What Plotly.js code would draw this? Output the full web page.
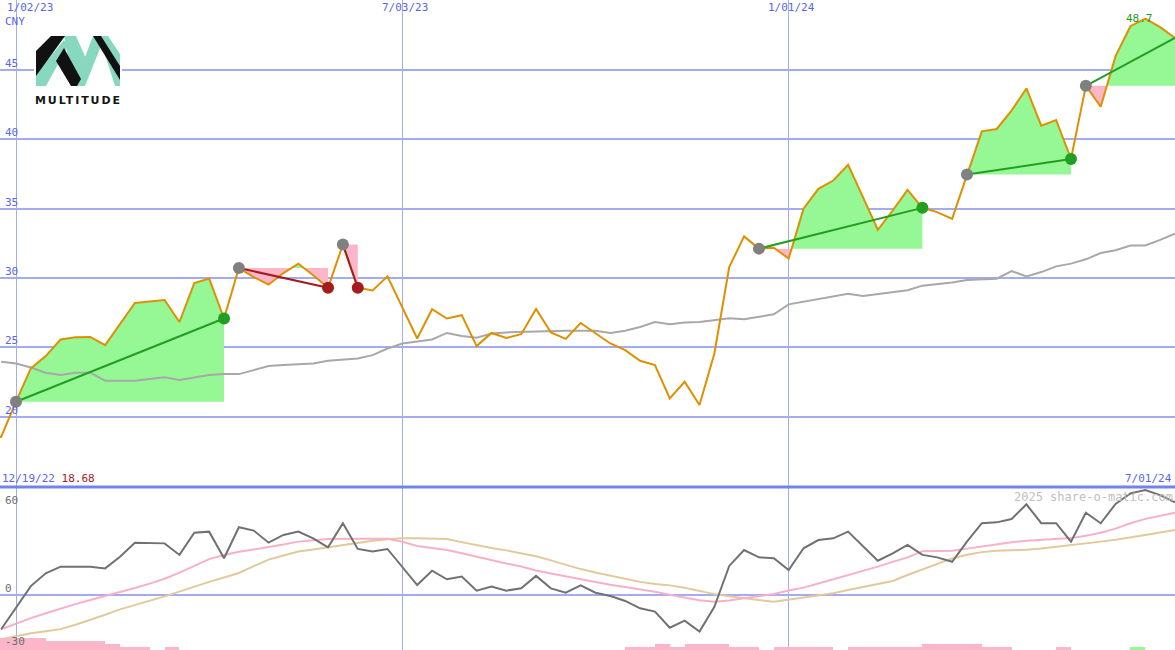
<!DOCTYPE html>
<html>
<head>
<meta charset="utf-8">
<script src="https://cdn.plot.ly/plotly-3.0.1.min.js"></script>
<style>
  html, body { margin: 0; padding: 0; background: #ffffff; }
  #chart { width: 1175px; height: 650px; }
</style>
</head>
<body>
<div id="chart"></div>
<script>
// ---------------- DATA ----------------
const firstDate = '2022-12-19';      // first weekly observation
const weekCount = 81;                // 12/19/22 ... 7/01/24

// weekly closing price (CNY)
const price = [18.68, 18.55,
  21.08, 23.48, 24.37, 25.57, 25.73, 25.75, 25.16, 26.65, 28.20, 28.30,
  28.42, 26.83, 29.64, 29.96, 27.08, 30.72, 30.07, 29.52, 30.36, 31.03,
  30.20, 29.30, 32.42, 29.30, 29.10, 30.12, 27.90, 25.64, 27.75, 27.08,
  27.32, 25.09, 26.04, 25.68, 25.95, 27.77, 26.07, 25.61, 26.76, 25.99,
  25.28, 24.80, 24.03, 23.72, 21.32, 22.52, 20.84, 24.56, 30.79, 33.00,
  32.12, 32.19, 31.40, 35.00, 36.43, 37.03, 38.16, 35.83, 33.48, 34.87,
  36.36, 35.06, 34.75, 34.27, 37.46, 40.58, 40.75, 42.07, 43.67, 40.99,
  41.40, 38.59, 43.86, 42.35, 46.00, 48.16, 48.70, 48.09, 47.32];

// moving average of price (grey)
const priceMA = [null, 23.96,
  23.84, 23.55, 23.17, 23.00, 23.17, 23.17, 22.60, 22.60, 22.60, 22.72,
  22.84, 22.64, 22.80, 23.00, 23.07, 23.07, 23.36, 23.65, 23.72, 23.80,
  23.84, 24.03, 24.13, 24.20, 24.44, 24.92, 25.28, 25.45, 25.57, 26.04,
  25.82, 25.70, 26.00, 26.08, 26.12, 26.15, 26.17, 26.19, 26.19, 26.19,
  26.04, 26.20, 26.47, 26.83, 26.66, 26.80, 26.83, 26.95, 27.10, 27.02,
  27.18, 27.38, 28.10, 28.30, 28.48, 28.65, 28.87, 28.70, 28.85, 28.95,
  29.12, 29.45, 29.55, 29.68, 29.85, 29.92, 29.95, 30.50, 30.12, 30.43,
  30.84, 31.04, 31.35, 31.80, 32.00, 32.35, 32.35, 32.75, 33.19];

// lower panel oscillator (dark grey) and its two averages
const osc = [null, -19.6,
  -7.0, 5.1, 12.4, 16.2, 16.2, 16.2, 15.2, 21.9, 29.9, 29.5,
  29.5, 22.9, 35.6, 36.2, 21.0, 38.7, 36.8, 29.9, 34.3, 36.2,
  32.4, 27.2, 41.0, 26.3, 24.8, 26.3, 16.2, 5.7, 13.9, 9.0,
  10.5, 2.5, 4.8, 2.5, 3.8, 10.9, 3.8, 1.3, 5.5, 1.3,
  -0.6, -3.4, -7.6, -9.5, -18.7, -14.7, -20.9, -6.7, 16.6, 25.7,
  21.5, 21.0, 14.3, 26.7, 31.4, 32.4, 36.2, 28.0, 19.6, 23.8,
  28.6, 22.9, 21.5, 19.0, 30.5, 41.0, 41.5, 43.4, 51.8, 41.0,
  41.0, 30.5, 47.0, 41.0, 52.0, 58.1, 60.0, 57.1, 53.0];

const oscFast = [null, -19.6,
  -16.3, -13.2, -10.4, -7.6, -5.2, -2.9, -0.7, 1.5, 4.0, 6.5,
  9.3, 12.8, 16.5, 20.5, 22.9, 24.7, 26.0, 27.3, 28.8, 30.5,
  31.3, 32.0, 32.2, 32.3, 32.4, 32.1, 30.4, 28.0, 26.8, 25.7,
  23.8, 21.8, 19.8, 18.0, 16.3, 14.0, 12.3, 10.6, 8.8, 7.4,
  5.9, 4.6, 3.4, 1.9, 0.2, -1.6, -3.0, -3.8, -3.2, -1.9,
  -0.8, 0.6, 2.6, 4.2, 6.6, 8.9, 11.4, 13.6, 16.2, 18.9,
  21.5, 25.0, 25.3, 25.3, 26.5, 27.8, 29.3, 30.2, 31.0, 31.5,
  32.1, 32.5, 33.8, 35.6, 37.9, 41.0, 43.5, 45.3, 47.0];

const oscSlow = [null, -25.3,
  -23.5, -21.8, -20.7, -19.5, -17.0, -14.3, -11.3, -8.2, -5.8, -3.4,
  -0.8, 1.9, 4.8, 7.5, 10.0, 12.6, 16.5, 20.2, 22.6, 24.9,
  26.0, 27.3, 28.6, 30.0, 31.0, 31.9, 32.4, 32.4, 32.4, 32.0,
  30.2, 28.3, 26.8, 25.5, 23.8, 22.1, 19.8, 17.2, 14.8, 12.9,
  11.1, 9.3, 7.5, 6.3, 5.5, 4.1, 2.4, 0.5, -0.7, -1.9,
  -2.9, -3.8, -2.5, -1.2, -0.1, 1.0, 2.9, 4.7, 6.5, 8.0,
  11.4, 14.7, 17.7, 20.9, 23.0, 24.5, 25.3, 25.5, 25.8, 26.6,
  27.5, 28.5, 29.5, 30.5, 31.6, 32.8, 34.3, 35.7, 37.1];

// signal blocks at bottom (negative = pink, positive = green)
const signalBars = [-4, -4,
  -4, -4, -3, -3, -3, -3, -2, -1, -1, 0,
  -1, 0, 0, 0, 0, 0, 0, 0, 0, 0,
  0, 0, 0, 0, 0, 0, 0, 0, 0, 0,
  0, 0, 0, 0, 0, 0, 0, 0, 0, 0,
  0, -1, -1, -2, -1, -2, -2, -2, -1, -1,
  0, -1, -1, -1, -1, 0, -1, -1, -1, -1,
  -1, -2, -2, -2, -2, -1, -1, 0, 0, 0,
  -1, 0, 0, 0, 0, 1, 0, 0, 0];

// trades: entry / exit weeks (last one still open)
const tradeEntry = ['2023-01-02', '2023-04-17', '2023-06-05', '2023-12-18', '2024-03-25', '2024-05-20'];
const tradeExit  = ['2023-04-10', '2023-05-29', '2023-06-12', '2024-03-04', '2024-05-13', '2024-07-01'];
const tradeOpen  = [false, false, false, false, false, true];

// axis ticks
const dateTicks = ['2023-01-02', '2023-07-03', '2024-01-01'];
const dateTickText = ['1/02/23', '7/03/23', '1/01/24'];
const priceTicks = [20, 25, 30, 35, 40, 45];
const oscTicks = [60, 0, -30];
const currency = 'CNY';
const footer = '2025 share-o-matic.com';
const brand = 'MULTITUDE';

// ---------------- BUILD ----------------
const DAY = 86400000;
const t0 = Date.parse(firstDate + 'T00:00:00Z');
const dates = [];
for (let i = 0; i < weekCount; i++) dates.push(t0 + i * 7 * DAY);
const toMs = s => Date.parse(s + 'T00:00:00Z');
const idxOf = s => dates.indexOf(toMs(s));
const fmtShort = ms => { const d = new Date(ms); return (d.getUTCMonth() + 1) + '/' + String(d.getUTCDate()).padStart(2, '0') + '/' + String(d.getUTCFullYear() % 100).padStart(2, '0'); };

const xRange = [toMs('2023-01-02') - 7.537 * DAY, dates[dates.length - 1]];
const splitY = 163 / 650;

const C = {
  grid: '#a3acf1', sep: '#7383ee', tick: '#5865ee',
  price: '#de9000', ma: '#a8a8a8', osc: '#717171', fast: '#f8b0c8', slow: '#e2c99c',
  gain: '#95f895', loss: '#fbb6c9', gline: '#229e22', rline: '#a51c1c', entry: '#808080'
};

const traces = [];

// trade fills (area between price and entry level)
tradeEntry.forEach((e, n) => {
  const a = idxOf(e), b = idxOf(tradeExit[n]);
  const base = price[a];
  const xs = [], ys = [];
  for (let i = a; i <= b; i++) {
    if (i > a) {
      const p0 = price[i - 1] - base, p1 = price[i] - base;
      if (p0 * p1 < 0) {
        const f = p0 / (p0 - p1);
        xs.push(dates[i - 1] + f * (dates[i] - dates[i - 1])); ys.push(base);
      }
    }
    xs.push(dates[i]); ys.push(price[i]);
  }
  const up = ys.map(v => Math.max(v, base)), dn = ys.map(v => Math.min(v, base));
  [[up, C.gain], [dn, C.loss]].forEach(([yy, col]) => {
    traces.push({
      x: xs.concat([xs[xs.length - 1], xs[0]]), y: yy.concat([base, base]),
      xaxis: 'x', yaxis: 'y', mode: 'lines', fill: 'toself', fillcolor: col,
      line: { width: 0, color: col }, hoverinfo: 'skip', showlegend: false
    });
  });
});

// moving average
traces.push({ x: dates, y: priceMA, xaxis: 'x', yaxis: 'y', mode: 'lines',
  line: { color: C.ma, width: 2 }, hoverinfo: 'skip', showlegend: false });

// price
traces.push({ x: dates, y: price, xaxis: 'x', yaxis: 'y', mode: 'lines',
  line: { color: C.price, width: 2 }, showlegend: false });

// trade lines
tradeEntry.forEach((e, n) => {
  const a = idxOf(e), b = idxOf(tradeExit[n]);
  const win = price[b] >= price[a];
  traces.push({ x: [dates[a], dates[b]], y: [price[a], price[b]], xaxis: 'x', yaxis: 'y',
    mode: 'lines', line: { color: win ? C.gline : C.rline, width: 2 }, hoverinfo: 'skip', showlegend: false });
});

// markers
const entX = [], entY = [], exX = [], exY = [], exC = [];
tradeEntry.forEach((e, n) => {
  const a = idxOf(e), b = idxOf(tradeExit[n]);
  entX.push(dates[a]); entY.push(price[a]);
  if (!tradeOpen[n]) { exX.push(dates[b]); exY.push(price[b]); exC.push(price[b] >= price[a] ? C.gline : C.rline); }
});
traces.push({ x: entX, y: entY, xaxis: 'x', yaxis: 'y', mode: 'markers',
  marker: { color: C.entry, size: 12 }, showlegend: false });
traces.push({ x: exX, y: exY, xaxis: 'x', yaxis: 'y', mode: 'markers',
  marker: { color: exC, size: 12 }, showlegend: false });

// lower panel: signal blocks
traces.push({ type: 'bar', x: dates, y: signalBars.map(Math.abs), xaxis: 'x2', yaxis: 'y3',
  offset: 0, width: 7 * DAY, marker: { color: signalBars.map(v => v > 0 ? C.gain : C.loss), line: { width: 0 } },
  hoverinfo: 'skip', showlegend: false });
traces.push({ x: dates, y: oscSlow, xaxis: 'x2', yaxis: 'y2', mode: 'lines',
  line: { color: C.slow, width: 2 }, showlegend: false });
traces.push({ x: dates, y: oscFast, xaxis: 'x2', yaxis: 'y2', mode: 'lines',
  line: { color: C.fast, width: 2 }, showlegend: false });
traces.push({ x: dates, y: osc, xaxis: 'x2', yaxis: 'y2', mode: 'lines',
  line: { color: C.osc, width: 2 }, showlegend: false });

// ---------------- ANNOTATIONS ----------------
const mono = 'DejaVu Sans Mono, Liberation Mono, monospace';
const ann = [];
const pxOf = ms => (ms - xRange[0]) / (xRange[1] - xRange[0]) * 1175;
dateTicks.forEach((d, i) => {
  const ms = toMs(d), edge = pxOf(ms) < 25;
  ann.push({ xref: 'x', yref: 'paper', x: edge ? xRange[0] : ms, y: 1, xanchor: edge ? 'left' : 'center', yanchor: 'top',
    xshift: edge ? 5 : 3, yshift: 1, text: dateTickText[i], showarrow: false, font: { family: mono, size: 11, color: C.tick } });
});
ann.push({ xref: 'paper', yref: 'paper', x: 0, y: 1, xanchor: 'left', yanchor: 'top', xshift: 3, yshift: -13,
  text: currency, showarrow: false, font: { family: mono, size: 11, color: C.tick } });
priceTicks.forEach(v => ann.push({ xref: 'paper', yref: 'y', x: 0, y: v, xanchor: 'left', yanchor: 'bottom',
  xshift: 3, yshift: -2, text: String(v), showarrow: false, font: { family: mono, size: 11, color: C.tick } }));
oscTicks.forEach((v, i) => ann.push({ xref: 'paper', yref: 'y2', x: 0, y: v, xanchor: 'left',
  yanchor: i === 0 ? 'top' : 'bottom', xshift: 3, yshift: -2, text: String(v), showarrow: false,
  font: { family: mono, size: 11, color: '#6e6e6e' } }));
ann.push({ xref: 'paper', yref: 'paper', x: 0, y: splitY, xanchor: 'left', yanchor: 'bottom', xshift: 0, yshift: 0,
  text: fmtShort(dates[0]) + ' <span style="color:#a51c1c">' + price[0].toFixed(2) + '</span>', showarrow: false,
  font: { family: mono, size: 11, color: C.tick } });
ann.push({ xref: 'paper', yref: 'paper', x: 1, y: splitY, xanchor: 'right', yanchor: 'bottom', xshift: -1, yshift: 0,
  text: fmtShort(dates[dates.length - 1]), showarrow: false, font: { family: mono, size: 11, color: C.tick } });
ann.push({ xref: 'paper', yref: 'paper', x: 1, y: splitY, xanchor: 'right', yanchor: 'top', xshift: 0, yshift: -1,
  text: footer, showarrow: false, font: { family: mono, size: 12, color: '#c0c0c0' } });
const maxV = Math.max(...price), maxI = price.indexOf(maxV);
ann.push({ xref: 'x', yref: 'y', x: dates[maxI], y: maxV, xanchor: 'center', yanchor: 'middle', xshift: -6, yshift: 0,
  text: maxV.toFixed(1), showarrow: false, font: { family: mono, size: 11, color: C.gline } });
ann.push({ xref: 'paper', yref: 'paper', x: 33 / 1175, y: 1 - 92 / 650, xanchor: 'left', yanchor: 'top',
  text: '<span style="letter-spacing:1.9px">' + brand + '</span>', showarrow: false,
  font: { family: 'DejaVu Sans', size: 11, weight: 600, color: '#151515' } });

// logo mark (decorative), on a white tile that hides the grid behind it
const mint = '%2388d8c0', ink = '%23111111';
const logoSvg = "<svg xmlns='http://www.w3.org/2000/svg' width='88' height='74' viewBox='0 0 88 74'>" +
  "<rect x='0' y='0' width='88' height='74' fill='white'/>" +
  "<g transform='translate(2,2)'>" +
  "<polygon points='0,38 0,50 10,50 32,10 28,4' fill='" + mint + "'/>" +
  "<polygon points='28,0 40,0 52,27 47,50 38,50' fill='" + mint + "'/>" +
  "<polygon points='38,50 49,50 69,0 57,0' fill='" + mint + "'/>" +
  "<polygon points='63,0 72,0 84,18 84,50 79,50' fill='" + mint + "'/>" +
  "<polygon points='0,15 15,0 29,0 0,40' fill='" + ink + "'/>" +
  "<polygon points='20,25 28,12 45,43 41,50 35,50' fill='" + ink + "'/>" +
  "<polygon points='57,0 65,0 84,30 84,44' fill='" + ink + "'/>" +
  "</g></svg>";

const layout = {
  width: 1175, height: 650,
  margin: { l: 0, r: 0, t: 0, b: 0, pad: 0 },
  paper_bgcolor: '#ffffff', plot_bgcolor: '#ffffff',
  showlegend: false, hovermode: false,
  xaxis: { type: 'date', range: xRange, domain: [0, 1], anchor: 'y', tickvals: dateTicks.map(toMs),
    showticklabels: false, ticks: '', showgrid: true, gridcolor: C.grid, gridwidth: 1, zeroline: false, showline: false },
  xaxis2: { type: 'date', range: xRange, domain: [0, 1], anchor: 'y2', matches: 'x', tickvals: dateTicks.map(toMs),
    showticklabels: false, ticks: '', showgrid: true, gridcolor: C.grid, gridwidth: 1, zeroline: false, showline: false },
  yaxis: { domain: [splitY, 1], range: [14.93, 50.05], tickvals: priceTicks, showticklabels: false, ticks: '',
    showgrid: true, gridcolor: C.grid, gridwidth: 2, zeroline: false, showline: false },
  yaxis2: { domain: [0, splitY], range: [-31.43, 61.71], tickvals: [0], showticklabels: false, ticks: '',
    showgrid: true, gridcolor: C.grid, gridwidth: 2, zeroline: false, showline: false },
  yaxis3: { overlaying: 'y2', range: [0, 54.3], visible: false, showgrid: false, zeroline: false },
  bargap: 0,
  shapes: [{ type: 'line', xref: 'paper', yref: 'paper', x0: 0, x1: 1, y0: splitY, y1: splitY,
    line: { color: C.sep, width: 3 } }],
  images: [{ source: 'data:image/svg+xml;utf8,' + logoSvg, xref: 'paper', yref: 'paper',
    x: 34 / 1175, y: 1 - 34 / 650, sizex: 88 / 1175, sizey: 74 / 650, xanchor: 'left', yanchor: 'top',
    sizing: 'stretch', layer: 'above' }],
  annotations: ann
};

Plotly.newPlot('chart', traces, layout, { staticPlot: true, displayModeBar: false });
</script>
</body>
</html>
